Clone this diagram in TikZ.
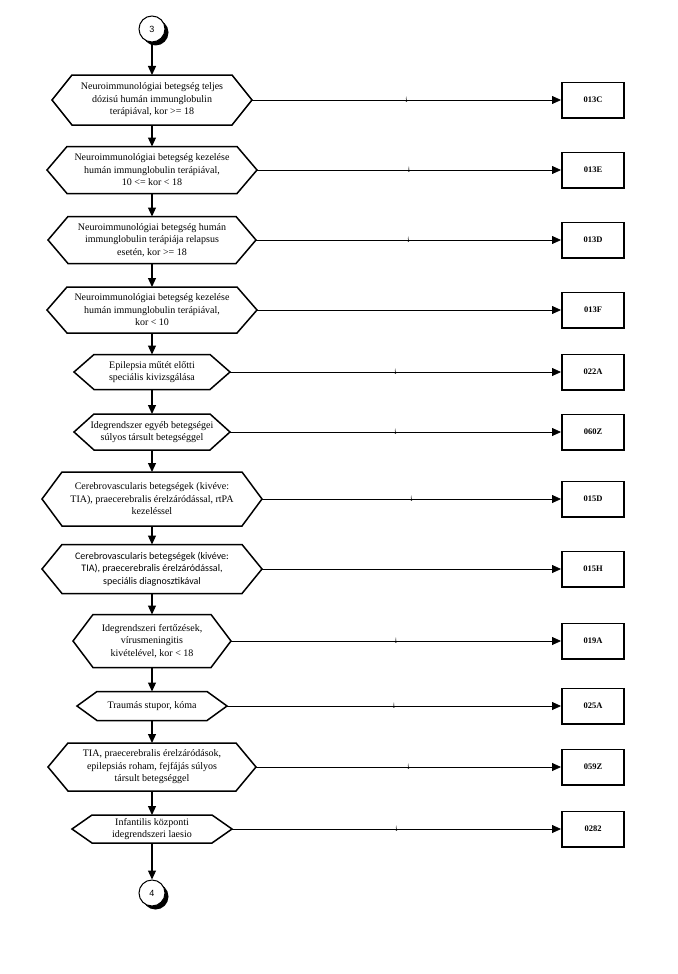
\documentclass[tikz,border=0pt]{standalone}
\usepackage{fontspec}
\setmainfont{Liberation Serif}
\newfontfamily\carlfont{Carlito}
\newfontfamily\arialfont{Liberation Sans}
\usetikzlibrary{arrows.meta}

\tikzset{
  hexline/.style={line width=1.5pt, line join=miter},
  hextext/.style={align=center, font=\fontsize{10}{12.5}\selectfont, inner sep=0pt},
  codebox/.style={draw, line width=1.6pt, minimum width=62.4pt, minimum height=35.4pt, inner sep=0pt,
    font=\fontsize{8.5}{10}\selectfont\bfseries},
  vflow/.style={line width=1.2pt, -{Triangle[length=9pt,width=8pt]}},
  hflow/.style={line width=0.8pt, -{Triangle[length=9pt,width=8pt]}},
  conn/.style={circle, draw, fill=white, line width=1pt, minimum size=26pt, inner sep=0pt,
    font=\arialfont\fontsize{9}{10}\selectfont},
  connshadow/.style={circle, fill=black, minimum size=26pt, inner sep=0pt},
  yeslabel/.style={font=\fontsize{8}{8}\selectfont, inner sep=0pt},
}

% #1 name, #2 centre y, #3 half width (to tip), #4 half height, #5 font, #6 text
\newcommand\hexa[6]{%
  \begin{scope}[shift={(152,#2)}]
    \draw[hexline] (-#3+20,-#4) -- (#3-20,-#4) -- (#3,0) coordinate (#1-r)
      -- (#3-20,#4) -- (-#3+20,#4) -- (-#3,0) -- cycle;
    \coordinate (#1-t) at (0,-#4);
    \coordinate (#1-b) at (0,#4);
    \node[hextext,#5] (#1) at (0,0) {#6};
  \end{scope}}

\begin{document}
\begin{tikzpicture}[x=1pt,y=-1pt]
\useasboundingbox (0,0) rectangle (677,974);

% connectors (circles)
\node[connshadow] (c3s) at (155.5,32.5) {};
\node[conn] (c3) at (152,29) {3};
\node[connshadow] (c4s) at (155.5,896.5) {};
\node[conn] (c4) at (152,893) {4};

% decisions
\hexa{h1}{100}{100}{25}{}{Neuroimmunológiai betegség teljes\\dózisú humán immunglobulin\\terápiával, kor >= 18}
\hexa{h2}{170}{105}{23.5}{}{Neuroimmunológiai betegség kezelése\\humán immunglobulin terápiával,\\10 <= kor < 18}
\hexa{h3}{240}{104}{23.5}{}{Neuroimmunológiai betegség humán\\immunglobulin terápiája relapsus\\esetén, kor >= 18}
\hexa{h4}{310}{105}{23}{}{Neuroimmunológiai betegség kezelése\\humán immunglobulin terápiával,\\kor < 10}
\hexa{h5}{372}{78}{17.5}{}{Epilepsia műtét előtti\\speciális kivizsgálása}
\hexa{h6}{432}{78}{18}{}{Idegrendszer egyéb betegségei\\súlyos társult betegséggel}
\hexa{h7}{499}{110}{27}{}{Cerebrovascularis betegségek (kivéve:\\TIA), praecerebralis érelzáródással, rtPA\\kezeléssel}
\hexa{h8}{569}{110}{24.5}{font=\carlfont\fontsize{10}{12.5}\selectfont}{Cerebrovascularis betegségek (kivéve:\\TIA), praecerebralis érelzáródással,\\speciális diagnosztikával}
\hexa{h9}{641}{79}{26.5}{}{Idegrendszeri fertőzések,\\vírusmeningitis\\kivételével, kor < 18}
\hexa{h10}{706}{75}{14.5}{}{Traumás stupor, kóma}
\hexa{h11}{767}{104}{24}{}{TIA, praecerebralis érelzáródások,\\epilepsiás roham, fejfájás súlyos\\társult betegséggel}
\hexa{h12}{829}{80}{14}{}{Infantilis központi\\idegrendszeri laesio}

% result boxes
\node[codebox] (b1) at (593,100) {013C};
\node[codebox] (b2) at (593,170) {013E};
\node[codebox] (b3) at (593,240) {013D};
\node[codebox] (b4) at (593,310) {013F};
\node[codebox] (b5) at (593,372) {022A};
\node[codebox] (b6) at (593,432) {060Z};
\node[codebox] (b7) at (593,499) {015D};
\node[codebox] (b8) at (593,569) {015H};
\node[codebox] (b9) at (593,641) {019A};
\node[codebox] (b10) at (593,706) {025A};
\node[codebox] (b11) at (593,767) {059Z};
\node[codebox] (b12) at (593,829) {0282};

% vertical flow
\draw[vflow] (c3) -- (h1-t);
\draw[vflow] (h1-b) -- (h2-t);
\draw[vflow] (h2-b) -- (h3-t);
\draw[vflow] (h3-b) -- (h4-t);
\draw[vflow] (h4-b) -- (h5-t);
\draw[vflow] (h5-b) -- (h6-t);
\draw[vflow] (h6-b) -- (h7-t);
\draw[vflow] (h7-b) -- (h8-t);
\draw[vflow] (h8-b) -- (h9-t);
\draw[vflow] (h9-b) -- (h10-t);
\draw[vflow] (h10-b) -- (h11-t);
\draw[vflow] (h11-b) -- (h12-t);
\draw[vflow] (h12-b) -- (c4);

% yes branches
\draw[hflow] (h1-r) -- node[yeslabel] (i1) {i} (b1);
\draw[hflow] (h2-r) -- node[yeslabel] (i2) {i} (b2);
\draw[hflow] (h3-r) -- node[yeslabel] (i3) {i} (b3);
\draw[hflow] (h4-r) -- (b4);
\draw[hflow] (h5-r) -- node[yeslabel] (i5) {i} (b5);
\draw[hflow] (h6-r) -- node[yeslabel] (i6) {i} (b6);
\draw[hflow] (h7-r) -- node[yeslabel] (i7) {i} (b7);
\draw[hflow] (h8-r) -- (b8);
\draw[hflow] (h9-r) -- node[yeslabel] (i9) {i} (b9);
\draw[hflow] (h10-r) -- node[yeslabel] (i10) {i} (b10);
\draw[hflow] (h11-r) -- node[yeslabel] (i11) {i} (b11);
\draw[hflow] (h12-r) -- node[yeslabel] (i12) {i} (b12);
\end{tikzpicture}
\end{document}
